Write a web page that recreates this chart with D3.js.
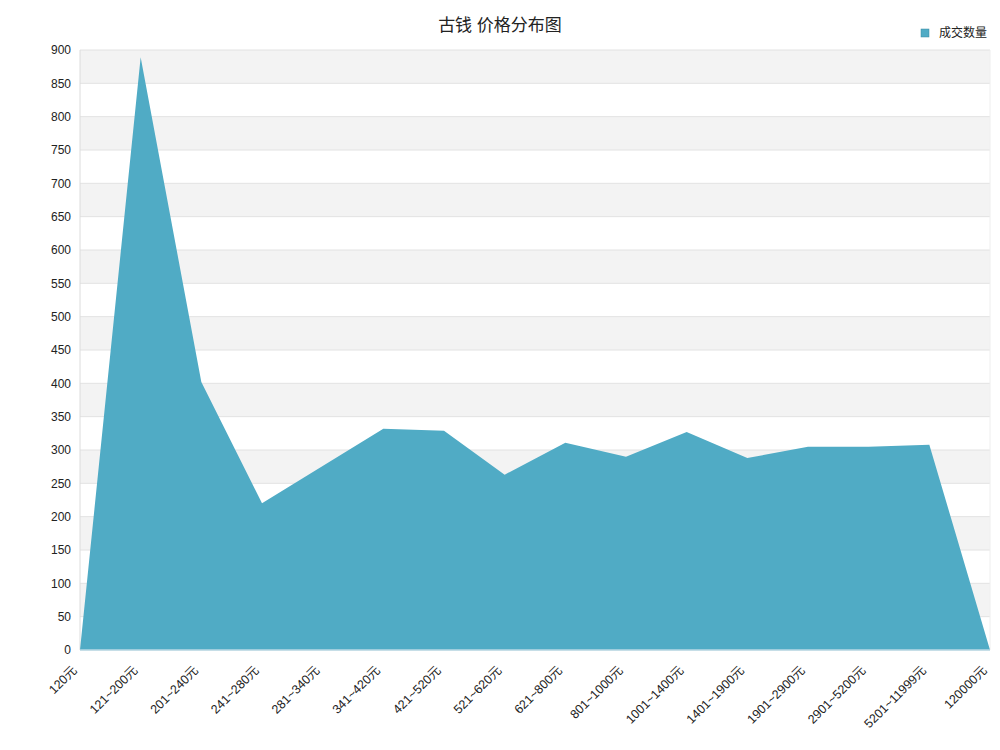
<!DOCTYPE html>
<html>
<head>
<meta charset="utf-8">
<script src="https://d3js.org/d3.v7.min.js"></script>
<style>
  body { margin: 0; background: #fff; }
  text { font-family: "Liberation Sans", "Noto Sans CJK SC", sans-serif; }
</style>
</head>
<body>
<div id="vis"></div>
<script>
// price ranges (x categories)
var categories = ["120元", "121~200元", "201~240元", "241~280元", "281~340元", "341~420元",
  "421~520元", "521~620元", "621~800元", "801~1000元", "1001~1400元", "1401~1900元",
  "1901~2900元", "2901~5200元", "5201~11999元", "120000元"];
// number of deals
var counts = [0, 889, 402, 220, 276, 332, 329, 263, 311, 290, 327, 288, 305, 305, 308, 0];
var yTicks = d3.range(0, 901, 50);

var W = 1000, H = 750;
var margin = { top: 50, right: 10, bottom: 100, left: 80 };
var width = W - margin.left - margin.right,
    height = H - margin.top - margin.bottom;

var root = d3.select("#vis").append("svg")
  .attr("width", W).attr("height", H);

root.append("text")
  .attr("x", W / 2).attr("y", 31)
  .attr("text-anchor", "middle")
  .style("font-size", "17px")
  .style("fill", "#222")
  .text("古钱 价格分布图");

// legend
root.append("rect")
  .attr("x", 921).attr("y", 29).attr("width", 8).attr("height", 8)
  .attr("fill", "#50abc5").attr("stroke", "#3a8aa3").attr("stroke-width", 0.5);
root.append("text")
  .attr("x", 939).attr("y", 37)
  .style("font-size", "12px").style("fill", "#222")
  .text("成交数量");

var svg = root.append("g")
  .attr("transform", "translate(" + margin.left + "," + margin.top + ")");

var x = d3.scalePoint().domain(categories).range([0, width]);
var y = d3.scaleLinear().domain([0, 900]).range([height, 0]);

// alternating bands
svg.selectAll(".band")
  .data(yTicks.slice(0, -1))
  .enter().append("rect")
  .attr("x", 0)
  .attr("y", function(d) { return y(d + 50); })
  .attr("width", width)
  .attr("height", function(d) { return y(d) - y(d + 50); })
  .attr("fill", function(d, i) { return i % 2 === 1 ? "#f3f3f3" : "#fff"; });

// grid lines
svg.selectAll(".grid")
  .data(yTicks)
  .enter().append("line")
  .attr("x1", 0).attr("x2", width)
  .attr("y1", function(d) { return y(d); })
  .attr("y2", function(d) { return y(d); })
  .attr("stroke", "#e2e2e2").attr("stroke-width", 1);

svg.append("line")
  .attr("x1", 0).attr("x2", 0).attr("y1", 0).attr("y2", height)
  .attr("stroke", "#dcdcdc");
svg.append("line")
  .attr("x1", width).attr("x2", width).attr("y1", 0).attr("y2", height)
  .attr("stroke", "#eeeeee");

// area
svg.append("path")
  .datum(counts)
  .attr("fill", "#50abc5")
  .attr("d", d3.area()
    .x(function(d, i) { return x(categories[i]); })
    .y0(height)
    .y1(function(d) { return y(d); }));

svg.append("line")
  .attr("x1", 0).attr("x2", width).attr("y1", height).attr("y2", height)
  .attr("stroke", "#b9d8e4").attr("stroke-width", 1.5);

// y axis
var yAxis = svg.append("g")
  .call(d3.axisLeft(y).tickValues(yTicks).tickSize(0).tickPadding(9));
yAxis.select(".domain").remove();
yAxis.selectAll("text").style("font-size", "12px").style("fill", "#222");

// x axis
var xAxis = svg.append("g")
  .attr("transform", "translate(0," + height + ")")
  .call(d3.axisBottom(x).tickSize(0));
xAxis.select(".domain").remove();
xAxis.selectAll("text")
  .style("font-size", "12.5px").style("fill", "#222")
  .attr("text-anchor", "end")
  .attr("dx", 0).attr("dy", 0)
  .attr("transform", "translate(-5,19) rotate(-45)");
</script>
</body>
</html>
